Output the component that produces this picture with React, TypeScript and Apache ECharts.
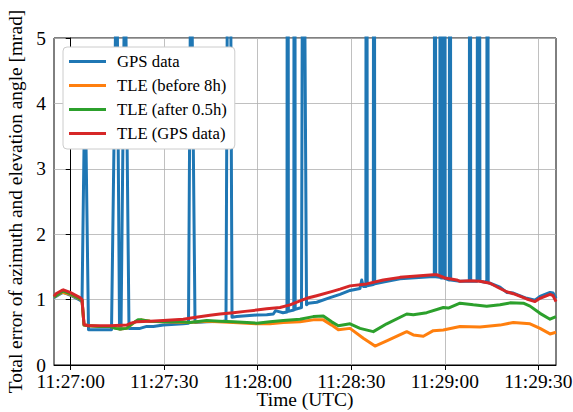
import React, { useEffect, useRef } from 'react';
import * as echarts from 'echarts';

// Time in seconds relative to 11:27:00 UTC
const xMin = -5.36;
const xMax = 155.69;
const xTickValues = [0, 30, 60, 90, 120, 150];
const xTickLabels = ['11:27:00', '11:27:30', '11:28:00', '11:28:30', '11:29:00', '11:29:30'];
const yTickValues = [0, 1, 2, 3, 4, 5];

const seriesNames = ['GPS data', 'TLE (before 8h)', 'TLE (after 0.5h)', 'TLE (GPS data)'];
const seriesColors = ['#1f77b4', '#ff7f0e', '#2ca02c', '#d62728'];

const gpsData: [number, number][] = [
  [-5.36, 1.03], [-4.72, 1.05], [-2.89, 1.10], [-2.37, 1.11], [-0.22, 1.07], [2.98, 0.99],
  [3.63, 0.97], [4.59, 4.5], [5.71, 0.54], [9.40, 0.54], [13.09, 0.54], [14.76, 6.5],
  [15.66, 0.55], [16.14, 0.55], [17.42, 6.5], [18.70, 0.56], [22.23, 0.56], [24.38, 0.59],
  [26.50, 0.59], [29.71, 0.61], [36.12, 0.63], [37.79, 0.64], [38.59, 7.0], [39.88, 0.65],
  [43.63, 0.66], [48.96, 0.67], [49.82, 0.68], [50.79, 12.0], [51.75, 0.73], [53.26, 0.74],
  [59.67, 0.765], [62.88, 0.77], [65.00, 0.78], [65.70, 0.83], [66.50, 0.82], [68.10, 0.80],
  [69.38, 0.81], [69.61, 20.0], [69.84, 0.82], [71.57, 0.84], [71.80, 20.0], [72.02, 0.85],
  [74.04, 0.88], [74.53, 10.0], [75.65, 0.92], [76.23, 0.945], [78.92, 0.96], [83.19, 1.03],
  [86.40, 1.08], [89.61, 1.14], [92.81, 1.17], [93.36, 1.30], [93.87, 1.20], [94.68, 1.20],
  [94.91, 20.0], [95.13, 1.21], [97.08, 1.23], [97.31, 20.0], [97.53, 1.24], [100.29, 1.27],
  [105.65, 1.32], [115.27, 1.35], [116.65, 1.35], [116.87, 20.0], [117.10, 1.35],
  [118.41, 1.34], [118.64, 20.0], [118.87, 1.33], [119.70, 1.33], [119.92, 20.0],
  [120.15, 1.32], [121.46, 1.30], [121.68, 20.0], [121.91, 1.30], [124.90, 1.28],
  [127.88, 1.28], [128.10, 20.0], [128.33, 1.28], [130.36, 1.28], [130.84, 20.0],
  [131.31, 1.28], [133.49, 1.26], [133.72, 20.0], [133.94, 1.26], [134.52, 1.25],
  [137.73, 1.19], [139.88, 1.11], [142.00, 1.10], [146.30, 1.02], [148.96, 0.99],
  [150.56, 1.05], [153.77, 1.11], [154.73, 1.10], [155.69, 1.02],
];

const tleBefore8hData: [number, number][] = [
  [-5.36, 1.04], [-2.89, 1.11], [-0.22, 1.08], [3.63, 0.99], [4.27, 0.61], [9.40, 0.59],
  [12.61, 0.59], [15.82, 0.55], [17.97, 0.56], [20.63, 0.66], [22.78, 0.69], [25.44, 0.67],
  [29.71, 0.66], [38.27, 0.65], [43.63, 0.67], [52.17, 0.65], [59.67, 0.63], [63.94, 0.63],
  [68.21, 0.65], [73.56, 0.66], [77.83, 0.69], [81.04, 0.69], [83.73, 0.61], [85.85, 0.54],
  [89.61, 0.56], [93.87, 0.41], [97.63, 0.29], [101.38, 0.37], [107.80, 0.51], [109.91, 0.46],
  [113.12, 0.44], [116.33, 0.525], [119.54, 0.535], [124.90, 0.59], [131.31, 0.58],
  [137.73, 0.61], [142.00, 0.65], [147.36, 0.63], [150.56, 0.56], [153.77, 0.475],
  [155.69, 0.50],
];

const tleAfter05hData: [number, number][] = [
  [-5.36, 1.04], [-2.89, 1.12], [-2.37, 1.13], [-0.22, 1.09], [2.98, 1.01], [3.63, 0.99],
  [4.27, 0.61], [5.55, 0.60], [9.40, 0.59], [12.61, 0.59], [14.21, 0.56], [15.82, 0.55],
  [17.97, 0.56], [19.35, 0.62], [20.63, 0.66], [21.59, 0.69], [22.78, 0.69], [25.44, 0.67],
  [29.71, 0.66], [35.07, 0.66], [38.27, 0.65], [43.63, 0.68], [47.90, 0.67], [52.17, 0.66],
  [59.67, 0.64], [63.94, 0.66], [68.21, 0.68], [73.56, 0.70], [77.83, 0.74], [81.04, 0.75],
  [83.73, 0.66], [85.85, 0.60], [89.61, 0.63], [92.81, 0.56], [97.08, 0.51], [101.38, 0.63],
  [107.80, 0.78], [109.91, 0.77], [114.21, 0.80], [119.54, 0.88], [121.14, 0.87],
  [124.90, 0.945], [129.16, 0.92], [133.46, 0.90], [137.73, 0.92], [140.94, 0.95],
  [145.21, 0.945], [147.36, 0.90], [150.56, 0.79], [153.77, 0.70], [155.69, 0.74],
];

const tleGpsData: [number, number][] = [
  [-5.36, 1.05], [-4.72, 1.09], [-2.89, 1.14], [-2.37, 1.15], [-0.22, 1.11], [2.98, 1.03],
  [3.63, 1.00], [4.27, 0.62], [5.55, 0.60], [9.40, 0.60], [12.61, 0.60], [17.97, 0.61],
  [19.35, 0.64], [21.17, 0.66], [25.44, 0.67], [29.71, 0.68], [36.12, 0.70], [40.20, 0.73],
  [44.69, 0.76], [47.90, 0.78], [52.17, 0.80], [55.90, 0.82], [59.67, 0.84], [62.88, 0.86],
  [67.15, 0.88], [70.36, 0.92], [73.56, 0.98], [75.71, 1.02], [78.92, 1.06], [84.25, 1.13],
  [86.40, 1.16], [89.61, 1.21], [94.96, 1.24], [100.29, 1.30], [105.65, 1.34], [111.00, 1.36],
  [116.33, 1.38], [117.42, 1.38], [120.08, 1.33], [123.84, 1.30], [124.90, 1.28],
  [128.10, 1.29], [131.31, 1.28], [134.52, 1.25], [137.73, 1.17], [139.88, 1.12],
  [142.00, 1.09], [146.30, 1.01], [148.96, 0.97], [150.56, 1.02], [153.77, 1.08],
  [154.73, 1.06], [155.69, 0.97],
];

const allData = [gpsData, tleBefore8hData, tleAfter05hData, tleGpsData];

const FONT = 'Liberation Serif, Times New Roman, DejaVu Serif, serif';

export default function App() {
  const ref = useRef<HTMLDivElement>(null);
  useEffect(() => {
    if (!ref.current) return;
    const chart = echarts.init(ref.current, null, { renderer: 'svg' });
    chart.setOption({
      animation: false,
      backgroundColor: '#ffffff',
      textStyle: { fontFamily: FONT },
      grid: {
        left: 54,
        right: 17,
        top: 38,
        bottom: 47,
        containLabel: false,
        outerBoundsMode: 'none',
        show: true,
        borderColor: '#000000',
        borderWidth: 1,
        backgroundColor: 'transparent',
      },
      legend: {
        left: 63,
        top: 47,
        orient: 'vertical',
        icon: 'rect',
        itemWidth: 37,
        itemHeight: 3,
        itemGap: 7,
        padding: [6, 8, 7, 6],
        backgroundColor: '#ffffff',
        borderColor: '#cccccc',
        borderWidth: 1,
        borderRadius: 4,
        textStyle: {
          fontFamily: FONT,
          fontSize: 16.7,
          color: '#000000',
          lineHeight: 17,
          padding: [0, 0, 0, 6],
        },
        data: seriesNames,
      },
      xAxis: {
        type: 'value',
        min: xMin,
        max: xMax,
        name: 'Time (UTC)',
        nameLocation: 'middle',
        nameGap: 25,
        nameMoveOverlap: false,
        nameTextStyle: { fontFamily: FONT, fontSize: 19.4, color: '#000000' },
        axisLine: { show: true, onZero: false, lineStyle: { color: '#000000', width: 1 } },
        axisTick: {
          show: true,
          inside: false,
          length: 5,
          customValues: xTickValues,
          lineStyle: { color: '#000000', width: 1 },
        },
        axisLabel: {
          customValues: xTickValues,
          margin: 7,
          fontFamily: FONT,
          fontSize: 19.4,
          color: '#000000',
          formatter: (v: number) => {
            const i = xTickValues.indexOf(Math.round(v));
            return i >= 0 ? xTickLabels[i] : '';
          },
        },
        splitLine: { show: true, lineStyle: { color: '#b0b0b0', width: 0.8 } },
      },
      yAxis: {
        type: 'value',
        min: 0,
        max: 5,
        interval: 1,
        name: 'Total error of azimuth and elevation angle [mrad]',
        nameLocation: 'middle',
        nameGap: 24,
        nameRotate: 90,
        nameTextStyle: { fontFamily: FONT, fontSize: 19.4, color: '#000000' },
        axisLine: { show: true, lineStyle: { color: '#000000', width: 1 } },
        axisTick: { show: true, inside: false, length: 5, lineStyle: { color: '#000000', width: 1 } },
        axisLabel: {
          margin: 8,
          fontFamily: FONT,
          fontSize: 19.4,
          color: '#000000',
          formatter: (v: number) => (yTickValues.includes(v) ? String(v) : ''),
        },
        splitLine: { show: true, lineStyle: { color: '#b0b0b0', width: 0.8 } },
      },
      series: seriesNames.map((name, i) => ({
        name,
        type: 'line',
        data: allData[i],
        showSymbol: false,
        symbol: 'none',
        clip: true,
        color: seriesColors[i],
        lineStyle: { color: seriesColors[i], width: 3, join: 'round', cap: 'butt' },
        emphasis: { disabled: true },
      })),
    });
    return () => chart.dispose();
  }, []);
  return (
    <div
      ref={ref}
      style={{ position: 'fixed', left: 0, top: 0, width: 573, height: 412 }}
    />
  );
}
